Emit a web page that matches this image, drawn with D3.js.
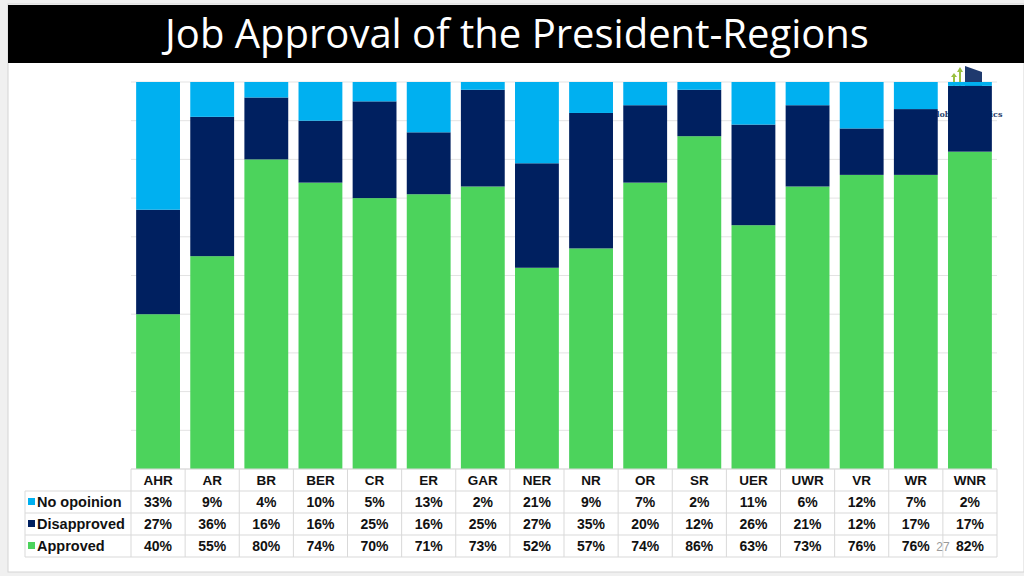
<!DOCTYPE html>
<html>
<head>
<meta charset="utf-8">
<script src="https://cdn.jsdelivr.net/npm/d3@7"></script>
<style>
  html, body { margin: 0; padding: 0; background: #f0f0f0; }
  svg { display: block; }
</style>
</head>
<body>
<div id="chart"></div>
<script>
// data
const regions = ['AHR', 'AR', 'BR', 'BER', 'CR', 'ER', 'GAR', 'NER', 'NR', 'OR', 'SR', 'UER', 'UWR', 'VR', 'WR', 'WNR'];
const approved = [40, 55, 80, 74, 70, 71, 73, 52, 57, 74, 86, 63, 73, 76, 76, 82];
const disapproved = [27, 36, 16, 16, 25, 16, 25, 27, 35, 20, 12, 26, 21, 12, 17, 17];
const noOpinion = [33, 9, 4, 10, 5, 13, 2, 21, 9, 7, 2, 11, 6, 12, 7, 2];
const seriesNames = ['No opoinion', 'Disapproved', 'Approved'];
const yTicks = [0, 10, 20, 30, 40, 50, 60, 70, 80, 90, 100];

const colors = { 'Approved': '#4cd35c', 'Disapproved': '#002060', 'No opoinion': '#00b0f0' };

const W = 1024, H = 576;
const plot = { left: 131, right: 997, top: 82, bottom: 469 };

const svg = d3.select('#chart').append('svg')
  .attr('width', W).attr('height', H);

// slide background
svg.append('rect')
  .attr('x', 8).attr('y', 4).attr('width', W - 8).attr('height', 568)
  .attr('fill', '#fff').attr('stroke', '#d4d4d4').attr('stroke-width', 1);

// title band
svg.append('rect')
  .attr('x', 8).attr('y', 5).attr('width', W - 8).attr('height', 58)
  .attr('fill', '#000');
svg.append('text')
  .attr('x', 517).attr('y', 48)
  .attr('text-anchor', 'middle')
  .attr('fill', '#fff')
  .attr('font-family', 'Open Sans, sans-serif')
  .attr('font-size', 40)
  .text('Job Approval of the President-Regions');

const x = d3.scaleBand().domain(regions).range([plot.left, plot.right]).paddingInner(0.19).paddingOuter(0.095);
const xCell = d3.scaleBand().domain(regions).range([plot.left, plot.right]);
const y = d3.scaleLinear().domain([0, 100]).range([plot.bottom, plot.top]);

// gridlines
svg.append('g').selectAll('line').data(yTicks).join('line')
  .attr('x1', plot.left).attr('x2', plot.right)
  .attr('y1', d => y(d)).attr('y2', d => y(d))
  .attr('stroke', '#e3e3e3').attr('stroke-width', 1);

// logo behind bars
const logo = svg.append('g');
logo.append('path')
  .attr('d', 'M965,66 L982,72 L982,88 L965,88 Z')
  .attr('fill', '#1f3a6e');
logo.append('path')
  .attr('d', 'M953,88 L953,77 L951,77 L954,73 L957,77 L955,77 L955,88 Z')
  .attr('fill', '#9ac040');
logo.append('path')
  .attr('d', 'M959,88 L959,72 L957,72 L960,67 L963,72 L961,72 L961,88 Z')
  .attr('fill', '#9ac040');
logo.append('text')
  .attr('x', 966).attr('y', 117)
  .attr('text-anchor', 'middle')
  .attr('fill', '#2a3f6e')
  .attr('font-family', 'DejaVu Serif, serif')
  .attr('font-size', 8)
  .attr('font-weight', 'bold')
  .text('Global Analytics');

// stacked bars
const rows = regions.map((r, i) => ({
  region: r,
  'Approved': approved[i],
  'Disapproved': disapproved[i],
  'No opoinion': noOpinion[i]
}));
const stack = d3.stack().keys(['Approved', 'Disapproved', 'No opoinion']);
const stacked = stack(rows);

svg.append('clipPath').attr('id', 'plotclip')
  .append('rect')
  .attr('x', plot.left).attr('y', plot.top)
  .attr('width', plot.right - plot.left).attr('height', plot.bottom - plot.top);

svg.append('g').attr('clip-path', 'url(#plotclip)')
  .selectAll('g').data(stacked).join('g')
  .attr('fill', d => colors[d.key])
  .selectAll('rect').data(d => d).join('rect')
  .attr('x', d => x(d.data.region))
  .attr('width', x.bandwidth())
  .attr('y', d => y(d[1]))
  .attr('height', d => y(d[0]) - y(d[1]));

// data table
const table = svg.append('g');
const tableLeft = 25;
const headerTop = 469, rowTop = 491, rowH = 22;
const lineColor = '#d9d9d9';
const rowValues = { 'No opoinion': noOpinion, 'Disapproved': disapproved, 'Approved': approved };
const font = 'Liberation Sans, Arial, sans-serif';

// horizontal lines
[rowTop, rowTop + rowH, rowTop + 2 * rowH, rowTop + 3 * rowH].forEach(yy => {
  table.append('line')
    .attr('x1', tableLeft).attr('x2', plot.right)
    .attr('y1', yy).attr('y2', yy)
    .attr('stroke', lineColor);
});
table.append('line')
  .attr('x1', plot.left).attr('x2', plot.right)
  .attr('y1', headerTop).attr('y2', headerTop)
  .attr('stroke', lineColor);

// vertical lines
const vx = regions.map(r => xCell(r)).concat([plot.right]);
table.selectAll('line.v').data(vx).join('line')
  .attr('class', 'v')
  .attr('x1', d => d).attr('x2', d => d)
  .attr('y1', headerTop).attr('y2', rowTop + 3 * rowH)
  .attr('stroke', lineColor);
table.append('line')
  .attr('x1', tableLeft).attr('x2', tableLeft)
  .attr('y1', rowTop).attr('y2', rowTop + 3 * rowH)
  .attr('stroke', lineColor);

// header labels
table.selectAll('text.hdr').data(regions).join('text')
  .attr('class', 'hdr')
  .attr('x', d => xCell(d) + xCell.bandwidth() / 2)
  .attr('y', headerTop + 16)
  .attr('text-anchor', 'middle')
  .attr('font-family', font)
  .attr('font-weight', 'bold')
  .attr('font-size', 13.5)
  .attr('fill', '#111')
  .text(d => d);

seriesNames.forEach((name, k) => {
  const ty = rowTop + k * rowH + 16;
  table.append('rect')
    .attr('x', 28).attr('y', ty - 9).attr('width', 7).attr('height', 7)
    .attr('fill', colors[name]);
  table.append('text')
    .attr('x', 37).attr('y', ty)
    .attr('font-family', font)
    .attr('font-weight', 'bold')
    .attr('font-size', 14.5)
    .attr('fill', '#111')
    .text(name);
  table.append('g').selectAll('text').data(rowValues[name]).join('text')
    .attr('x', (d, i) => xCell(regions[i]) + xCell.bandwidth() / 2)
    .attr('y', ty)
    .attr('text-anchor', 'middle')
    .attr('font-family', font)
    .attr('font-weight', 'bold')
    .attr('font-size', 14)
    .attr('fill', '#111')
    .text(d => d + '%');
});

// slide number
svg.append('text')
  .attr('x', 943).attr('y', 551)
  .attr('text-anchor', 'middle')
  .attr('font-family', font)
  .attr('font-size', 12)
  .attr('fill', '#9a9a9a')
  .text('27');
</script>
</body>
</html>
